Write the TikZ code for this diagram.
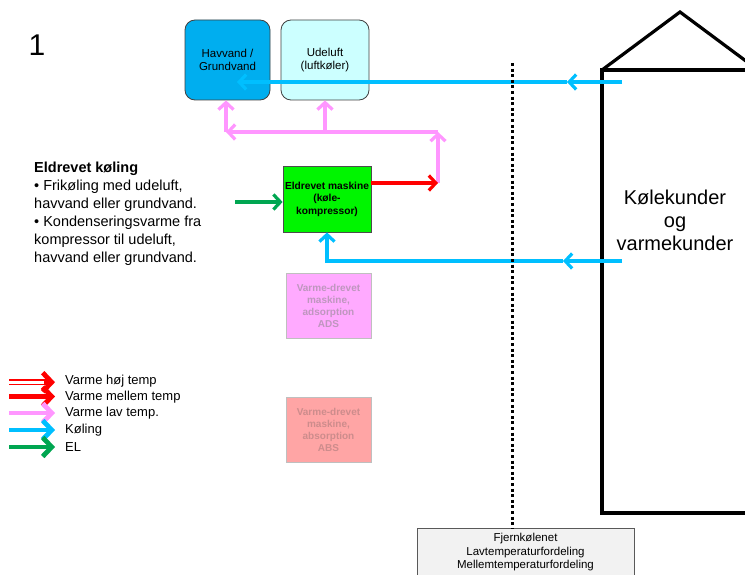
\documentclass[tikz,border=0pt]{standalone}
\usepackage{fontspec}
\setmainfont{Liberation Sans}
\usetikzlibrary{arrows.meta}
\definecolor{cyA}{RGB}{0,191,255}
\definecolor{pkA}{RGB}{255,150,255}
\definecolor{rdA}{RGB}{255,0,0}
\definecolor{grA}{RGB}{0,166,81}
\definecolor{havC}{RGB}{0,174,239}
\definecolor{udeC}{RGB}{204,255,255}
\definecolor{gbC}{RGB}{0,245,0}
\definecolor{adsC}{RGB}{255,170,255}
\definecolor{absC}{RGB}{255,165,165}
\definecolor{adsT}{RGB}{190,150,190}
\definecolor{absT}{RGB}{205,140,140}
\definecolor{fjC}{RGB}{242,242,242}
\begin{document}
\begin{tikzpicture}[x=1pt,y=-1pt,
  tp/.tip={Straight Barb[length=7pt,width=15pt]},
  ln/.style={line width=3.2pt},
  cy/.style={ln,cyA},
  pk/.style={ln,pkA},
  rd/.style={ln,rdA},
  gr/.style={ln,grA},
  lg/.style={line width=4.8pt,-{Straight Barb[length=9pt,width=19pt]}},
  rbox/.style={draw=black!75,line width=0.8pt,rounded corners=10pt,minimum width=85pt,minimum height=80pt,align=center,inner sep=0pt,font=\fontsize{11.5}{13.5}\selectfont},
  mbox/.style={draw=black!70,line width=0.8pt,minimum width=88pt,minimum height=66pt,align=center,inner sep=0pt,font=\bfseries\fontsize{10.2}{12.5}\selectfont},
  gbox/.style={draw=black!25,line width=0.9pt,minimum width=85pt,minimum height=65pt,align=center,inner sep=0pt,font=\bfseries\fontsize{10}{12}\selectfont},
  lgt/.style={anchor=west,inner sep=0pt,font=\fontsize{13}{15}\selectfont}]
\useasboundingbox (0,0) rectangle (745,575);
\clip (0,0) rectangle (745,575);
\fill[white] (0,0) rectangle (745,575);

% number
\node[font=\fontsize{30}{30}\selectfont] (num) at (37,45) {1};

% top boxes
\node[rbox,fill=havC] (hav) at (227.5,60) {Havvand /\\Grundvand};
\node[rbox,fill=udeC,minimum width=88pt] (ude) at (325,60) {Udeluft\\(luftkøler)};

% machine boxes
\node[mbox,fill=gbC] (gb) at (327,199) {Eldrevet maskine\\(køle-\\kompressor)};
\node[gbox,fill=adsC,text=adsT] (ads) at (328.5,305.5) {Varme-drevet\\maskine,\\adsorption\\ADS};
\node[gbox,fill=absC,text=absT] (abs) at (328.5,430) {Varme-drevet\\maskine,\\absorption\\ABS};

% left text
\node[anchor=north west,align=left,inner sep=0pt,font=\fontsize{14.5}{18}\selectfont] (txt) at (34,162)
 {\textbf{Eldrevet køling}\\• Frikøling med udeluft,\\havvand eller grundvand.\\• Kondenseringsvarme fra\\kompressor til udeluft,\\havvand eller grundvand.};

% house
\coordinate (hbl) at (602,513);
\coordinate (htl) at (602,70);
\coordinate (htop) at (680,12);
\draw[line width=3.2pt] (760,513) -- (hbl) -- (htl) -- (760,70);
\draw[line width=3.2pt,line join=miter] (htl) -- (htop) -- (758,70);
\node[align=center,font=\fontsize{20}{23}\selectfont] (kunde) at (675,220) {Kølekunder\\og\\varmekunder};

% bottom box
\node[draw=black!65,line width=0.8pt,fill=fjC,minimum width=217pt,minimum height=60pt,anchor=north,inner sep=0pt] (fj) at (525.5,528) {};
\node[anchor=north,align=center,inner sep=0pt,font=\fontsize{11.5}{13.5}\selectfont] (fjt) at (525.5,533) {Fjernkølenet\\Lavtemperaturfordeling\\Mellemtemperaturfordeling};

% cyan top
\coordinate (c1) at (622,82);
\coordinate (m1) at (567,82);
\coordinate (e1) at (237,82);
\draw[cy,-{tp}] (c1) -- (m1);
\draw[cy,-{tp}] (m1) -- (e1);

% cyan lower
\coordinate (c2) at (622,261);
\coordinate (m2) at (563,261);
\coordinate (k2) at (327,261);
\draw[cy,-{tp}] (c2) -- (m2);
\draw[cy,-{tp}] (m2) -- (k2) -- (gb.south);

% pink
\coordinate (r1) at (438,183);
\coordinate (p1) at (438,132);
\coordinate (p2) at (226,132);
\coordinate (p3) at (325,132);
\draw[pk,-{tp}] (r1) -- (p1);
\draw[pk,-{tp}] (p1) -- (p2);
\draw[pk,-{tp}] (p2) -- (hav.south -| p2);
\draw[pk,-{tp}] (p3) -- (ude.south);

% red
\draw[rd,-{tp}] (gb.east |- r1) -- (r1);

% green
\coordinate (g0) at (235,202);
\draw[gr,-{tp}] (g0) -- (gb.west |- g0);

% dotted line
\coordinate (d1) at (512,63);
\draw[line width=3pt,dash pattern=on 3pt off 2.6pt] (d1) -- (fj.north -| d1);

% legend
\coordinate (l1a) at (9,380);
\coordinate (l1b) at (48,380);
\coordinate (l1c) at (9,384.5);
\coordinate (l1d) at (48,384.5);
\draw[rdA,line width=1.6pt] (l1a) -- (l1b);
\draw[rdA,line width=1.6pt] (l1c) -- (l1d);
\draw[rdA,lg] (44,382.2) -- (55,382.2);
\coordinate (l2a) at (9,396.5); \coordinate (l2b) at (55,396.5);
\coordinate (l3a) at (9,413); \coordinate (l3b) at (55,413);
\coordinate (l4a) at (9,430); \coordinate (l4b) at (55,430);
\coordinate (l5a) at (9,447); \coordinate (l5b) at (55,447);
\draw[rdA,lg] (l2a) -- (l2b);
\draw[pkA,lg] (l3a) -- (l3b);
\draw[cyA,lg] (l4a) -- (l4b);
\draw[grA,lg] (l5a) -- (l5b);
\node[lgt] (t1) at (65,381) {Varme høj temp};
\node[lgt] (t2) at (65,397) {Varme mellem temp};
\node[lgt] (t3) at (65,413) {Varme lav temp.};
\node[lgt] (t4) at (65,430) {Køling};
\node[lgt] (t5) at (65,447) {EL};
\end{tikzpicture}
\end{document}
